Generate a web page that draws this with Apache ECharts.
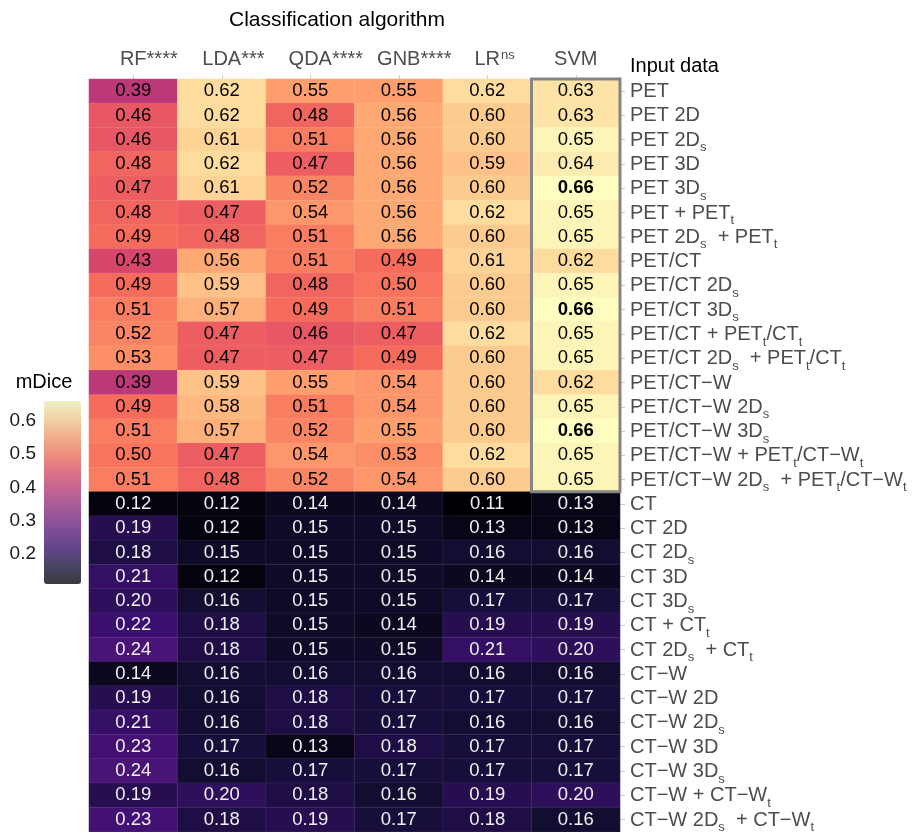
<!DOCTYPE html>
<html>
<head>
<meta charset="utf-8">
<script src="https://cdn.jsdelivr.net/npm/echarts@6/dist/echarts.min.js"></script>
<style>html,body{margin:0;padding:0;background:#fff}#c{width:916px;height:834px}</style>
</head>
<body>
<div id="c"></div>
<script>
// ---------- data ----------
// '^' marks a superscript, '*' marks significance stars, '_' marks a subscript letter
const columns = ['RF****', 'LDA***', 'QDA****', 'GNB****', 'LR^ns', 'SVM'];
const rows = [
  'PET', 'PET 2D', 'PET 2D_s', 'PET 3D', 'PET 3D_s', 'PET + PET_t', 'PET 2D_s  + PET_t',
  'PET/CT', 'PET/CT 2D_s', 'PET/CT 3D_s', 'PET/CT + PET_t/CT_t', 'PET/CT 2D_s  + PET_t/CT_t',
  'PET/CT\u2212W', 'PET/CT\u2212W 2D_s', 'PET/CT\u2212W 3D_s', 'PET/CT\u2212W + PET_t/CT\u2212W_t',
  'PET/CT\u2212W 2D_s  + PET_t/CT\u2212W_t',
  'CT', 'CT 2D', 'CT 2D_s', 'CT 3D', 'CT 3D_s', 'CT + CT_t', 'CT 2D_s  + CT_t',
  'CT\u2212W', 'CT\u2212W 2D', 'CT\u2212W 2D_s', 'CT\u2212W 3D', 'CT\u2212W 3D_s',
  'CT\u2212W + CT\u2212W_t', 'CT\u2212W 2D_s  + CT\u2212W_t'
];
const rf  = [0.39,0.46,0.46,0.48,0.47,0.48,0.49,0.43,0.49,0.51,0.52,0.53,0.39,0.49,0.51,0.50,0.51,
             0.12,0.19,0.18,0.21,0.20,0.22,0.24,0.14,0.19,0.21,0.23,0.24,0.19,0.23];
const lda = [0.62,0.62,0.61,0.62,0.61,0.47,0.48,0.56,0.59,0.57,0.47,0.47,0.59,0.58,0.57,0.47,0.48,
             0.12,0.12,0.15,0.12,0.16,0.18,0.18,0.16,0.16,0.16,0.17,0.16,0.20,0.18];
const qda = [0.55,0.48,0.51,0.47,0.52,0.54,0.51,0.51,0.48,0.49,0.46,0.47,0.55,0.51,0.52,0.54,0.52,
             0.14,0.15,0.15,0.15,0.15,0.15,0.15,0.16,0.18,0.18,0.13,0.17,0.18,0.19];
const gnb = [0.55,0.56,0.56,0.56,0.56,0.56,0.56,0.49,0.50,0.51,0.47,0.49,0.54,0.54,0.55,0.53,0.54,
             0.14,0.15,0.15,0.15,0.15,0.14,0.15,0.16,0.17,0.17,0.18,0.17,0.16,0.17];
const lr  = [0.62,0.60,0.60,0.59,0.60,0.62,0.60,0.61,0.60,0.60,0.62,0.60,0.60,0.60,0.60,0.62,0.60,
             0.11,0.13,0.16,0.14,0.17,0.19,0.21,0.16,0.17,0.16,0.17,0.17,0.19,0.18];
const svm = [0.63,0.63,0.65,0.64,0.66,0.65,0.65,0.62,0.65,0.66,0.65,0.65,0.62,0.65,0.66,0.65,0.65,
             0.13,0.13,0.16,0.14,0.17,0.19,0.20,0.16,0.17,0.16,0.17,0.17,0.20,0.16];
const legendTicks = [0.2, 0.3, 0.4, 0.5, 0.6];
const scaleMin = 0.11, scaleMax = 0.66;
const highlight = { column: 'SVM', fromRow: 'PET', toRow: 'PET/CT\u2212W 2D_s  + PET_t/CT\u2212W_t' };

// ---------- build ----------
const magma = ['#000004','#140e36','#3b0f70','#641a80','#8c2981','#b73779','#de4968','#f7705c','#fe9f6d','#fecf92','#fcfdbf'];
const magmaFaded = magma.map(h => {
  const r = parseInt(h.slice(1,3),16), g = parseInt(h.slice(3,5),16), b = parseInt(h.slice(5,7),16);
  return `rgba(${r},${g},${b},0.72)`;
});
const cols = [rf, lda, qda, gnb, lr, svm];
const allVals = cols.flat();
const best = Math.max(...allVals);
const data = [];
cols.forEach((arr, c) => arr.forEach((v, r) => {
  data.push({
    value: [c, r, v],
    label: { color: v < 0.3 ? '#f0f0f0' : '#000', fontWeight: v === best ? 'bold' : 'normal' }
  });
}));

// rows: '_x' -> subscript token
function rowRich(s) {
  return s.replace(/_(\w)|([^_]+)/g, (m, sub, txt) => sub ? `{s|${sub}}` : `{n|${txt}}`);
}
// columns: stars / superscripts are balanced by an invisible copy on the left so the base name stays centred
function colRich(s) {
  const m = s.match(/^([A-Za-z]+)(\*+|\^\w+)?$/);
  const base = m[1], extra = m[2];
  if (!extra) return `{n|${base}}`;
  if (extra[0] === '^') { const e = extra.slice(1); return `{q|${e}}{n|${base}}{p|${e}}`; }
  return `{g|${extra}}{n|${base}}{n|${extra}}`;
}
const FONT = 'Liberation Sans, Arial, sans-serif';
const GREY = '#4d4d4d';
const rowStyles = {
  n: { fontSize: 20, lineHeight: 22, verticalAlign: 'top', color: GREY, fontFamily: FONT },
  s: { fontSize: 13, lineHeight: 13, padding: [11, 0, 0, 0], verticalAlign: 'top', color: GREY, fontFamily: FONT }
};
const colStyles = {
  n: { fontSize: 20, lineHeight: 22, verticalAlign: 'top', color: GREY, fontFamily: FONT },
  g: { fontSize: 20, lineHeight: 22, verticalAlign: 'top', color: 'rgba(0,0,0,0)', fontFamily: FONT },
  p: { fontSize: 13, lineHeight: 13, padding: [0, 0, 0, 1], verticalAlign: 'top', color: GREY, fontFamily: FONT },
  q: { fontSize: 13, lineHeight: 13, padding: [0, 1, 0, 0], verticalAlign: 'top', color: 'rgba(0,0,0,0)', fontFamily: FONT }
};

const chart = echarts.init(document.getElementById('c'), null, { renderer: 'canvas' });
chart.setOption({
  animation: false,
  backgroundColor: '#fff',
  textStyle: { fontFamily: FONT },
  title: [
    {
      text: 'Classification algorithm', left: 229, top: 10, padding: 0,
      textStyle: { fontSize: 21, fontWeight: 'normal', color: '#000', fontFamily: FONT }
    },
    {
      text: 'Input data', left: 630, top: 56, padding: 0,
      textStyle: { fontSize: 20, fontWeight: 'normal', color: '#000', fontFamily: FONT }
    }
  ],
  grid: [
    { left: 89, right: 296, top: 79, bottom: -1 },
    { left: 44, top: 401, width: 37, height: 183 }
  ],
  xAxis: [
    {
      gridIndex: 0, type: 'category', data: columns, position: 'top',
      axisLine: { show: false },
      axisTick: { show: true, length: 4, alignWithLabel: true, lineStyle: { color: '#cccccc' } },
      axisLabel: { interval: 0, margin: 8, formatter: v => colRich(v), rich: colStyles },
      splitLine: { show: false }
    },
    { gridIndex: 1, type: 'value', min: 0, max: 1, show: false }
  ],
  yAxis: [
    {
      gridIndex: 0, type: 'category', data: rows, inverse: true, position: 'right',
      axisLine: { show: false },
      axisTick: { show: true, length: 5, alignWithLabel: true, lineStyle: { color: '#c8c8c8' } },
      axisLabel: { interval: 0, margin: 10, padding: [3, 0, 0, 0], formatter: v => rowRich(v), rich: rowStyles },
      splitLine: { show: false }
    },
    {
      gridIndex: 1, type: 'value', min: scaleMin, max: scaleMax, position: 'left',
      axisLine: { show: false }, splitLine: { show: false },
      axisTick: { show: true, inside: true, length: 7, customValues: legendTicks, lineStyle: { color: 'rgba(255,255,255,0.8)', width: 1 } },
      axisLabel: { show: true, customValues: legendTicks, margin: 8, fontSize: 19, color: '#1a1a1a', formatter: v => v.toFixed(1) },
      name: 'mDice', nameLocation: 'end', nameGap: 9,
      nameTextStyle: { fontSize: 20, color: '#000', align: 'center', fontFamily: FONT }
    },
    {
      gridIndex: 1, type: 'value', min: scaleMin, max: scaleMax, position: 'right',
      axisLine: { show: false }, splitLine: { show: false },
      axisTick: { show: true, inside: true, length: 7, customValues: legendTicks, lineStyle: { color: 'rgba(255,255,255,0.8)', width: 1 } },
      axisLabel: { show: false }
    }
  ],
  visualMap: {
    type: 'continuous', min: scaleMin, max: scaleMax, dimension: 2, seriesIndex: 0,
    orient: 'vertical', left: 44, top: 401, itemWidth: 37, itemHeight: 183, padding: 0,
    calculable: false, hoverLink: false, realtime: false,
    inRange: { color: magma },
    controller: { inRange: { color: magmaFaded } },
    textStyle: { color: 'transparent' }
  },
  series: [
    {
      type: 'heatmap', xAxisIndex: 0, yAxisIndex: 0, data: data,
      itemStyle: { borderColor: 'rgba(255,255,255,0.07)', borderWidth: 1 },
      label: { show: true, fontSize: 18.5, fontFamily: FONT, padding: [3, 0, 0, 0], formatter: p => p.value[2].toFixed(2) },
      emphasis: { disabled: true }
    },
    {
      type: 'custom', xAxisIndex: 0, yAxisIndex: 0, silent: true, z: 10,
      data: [[columns.indexOf(highlight.column), rows.indexOf(highlight.fromRow), rows.indexOf(highlight.toRow)]],
      encode: { x: 0, y: 1 },
      renderItem: (params, api) => {
        const x = api.value(0);
        const p0 = api.coord([x, api.value(1)]);
        const p1 = api.coord([x, api.value(2)]);
        const sz = api.size([1, 1]);
        return {
          type: 'rect',
          shape: { x: p0[0] - sz[0] / 2, y: p0[1] - sz[1] / 2, width: sz[0], height: p1[1] - p0[1] + sz[1] },
          style: { fill: 'none', stroke: '#858585', lineWidth: 3 }
        };
      }
    }
  ]
});
</script>
</body>
</html>
